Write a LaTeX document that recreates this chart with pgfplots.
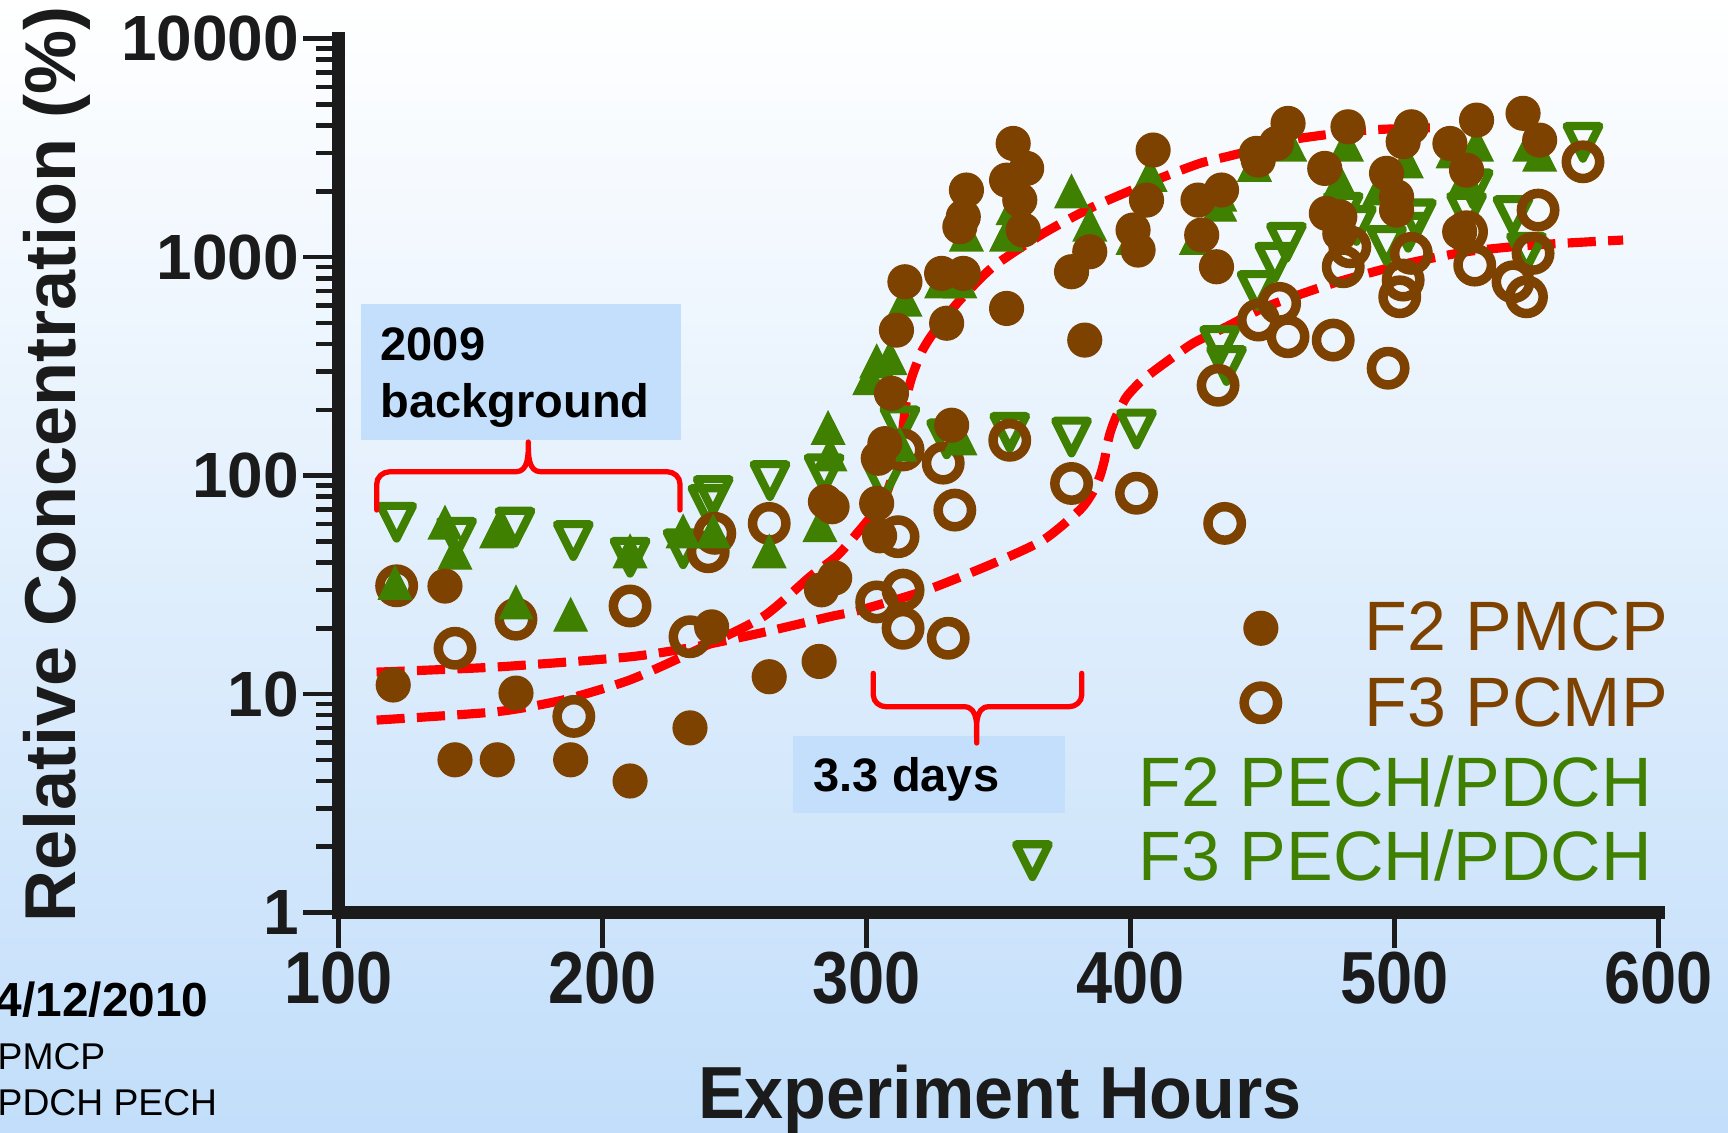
\documentclass[border=0pt]{standalone}
\usepackage{fontspec}
\setmainfont{Liberation Sans}
\newfontfamily\xtickfont[FakeStretch=0.88]{Liberation Sans}
\newfontfamily\xlabfont[FakeStretch=0.95]{Liberation Sans}
\usepackage{pgfplots}
\pgfplotsset{compat=1.18}
\definecolor{brn}{RGB}{126,66,0}
\definecolor{grn}{RGB}{64,128,0}
\definecolor{axisc}{RGB}{27,27,27}
\definecolor{bgbot}{RGB}{194,222,250}
\definecolor{boxc}{RGB}{196,223,251}

\begin{document}
\begin{tikzpicture}
\fill[top color=white, bottom color=bgbot] (0,0) rectangle (172.8mm,113.2mm);

\begin{axis}[
    at={(33.83mm,21.95mm)}, anchor=south west,
    scale only axis, width=132.02mm, height=87.39mm,
    xmin=100, xmax=600, ymin=1, ymax=10000, ymode=log,
    axis x line*=bottom, axis y line*=left,
    axis line style={-, line width=3.8pt, color=axisc, line cap=rect},
    xtick={100,200,300,400,500,600},
    xticklabels={100,200,300,400,500,600},
    ytick={1,10,100,1000,10000},
    yticklabels={1,10,100,1000,10000},
    minor ytick={2,3,4,5,6,7,8,9,20,30,40,50,60,70,80,90,200,300,400,500,600,700,800,900,2000,3000,4000,5000,6000,7000,8000,9000},
    tick align=outside,
    major tick length=10pt, minor tick length=6.3pt,
    major tick style={line width=1.3pt, color=axisc},
    minor tick style={line width=1.3pt, color=axisc},
    y tick label style={font=\bfseries\fontsize{18.2}{18.2}\selectfont, inner sep=1pt, text=axisc},
    x tick label style={font=\xtickfont\bfseries\fontsize{21}{21}\selectfont, inner sep=1pt, text=axisc},
]
% F3 PECH/PDCH
\addplot[only marks, mark=triangle, mark size=5.4pt,
  mark options={rotate=180, yscale=1.15, line width=2.3pt, draw=grn, fill=none, line join=round}] table {
122.1 64.8
144.8 55.3
166.9 61.5
189 53.4
210.5 44.8
230.6 49
242 85.9
240 78
263.5 100.5
284 108
306.4 99
312.7 179
330.4 156
354.3 167
377.7 159
402.3 173
433.8 417
436.4 338
448 745
454.7 1003
459.1 1239
480.6 1700
485.6 1479
497 1197
505.2 1377
508.3 1585
527.3 1700
529.8 2174
544.9 1641
550 1114
571.4 3550
};
% F3 PCMP
\addplot[only marks, mark=o, mark size=4.75pt,
  mark options={line width=2.7pt, draw=brn}] table {
122.1 31.3
144.2 16.2
167.3 22
189.2 7.9
210.5 25.3
233.2 18.3
240.1 44.8
242.6 54.4
263.2 60.4
303.9 26.4
312 52.5
313.9 29.9
313.9 20
313.9 131
329.1 114
331 18
333.5 69.5
354.3 145
377.7 92
402.3 83
433.2 259
435.7 60.4
448.5 515
456.5 614
459.7 432
476.8 417
480.6 903
483.1 1114
497.6 310
502 658
503.3 785
506.4 1040
527.3 1306
530.4 919
544.9 771
550 658
552.5 1040
554.4 1641
571.4 2730
};
% F2 PECH/PDCH
\addplot[only marks, mark=triangle*, mark size=5.4pt,
  mark options={yscale=1.15, draw=grn, fill=grn, line width=0.4pt}] table {
121.5 30.5
140.4 57.5
144.2 41.9
160 52.5
167.3 24.8
188 21.8
210.5 42.5
230.6 52.5
242 52.5
263.2 42.5
282.4 56
285.5 156
286.2 118
301.3 264
303.9 315
308.9 326
312.7 131
314.6 603
328.5 731
335.4 731
335.4 140
337.9 1197
353.1 1197
355.6 1585
377.7 1888
384.6 1330
401 1156
407.4 2250
425 1156
433.8 1641
433.8 1824
447 2500
460.3 3090
479.3 2100
481.8 3090
494.4 1950
504.5 2590
522.2 2877
527 2174
531.1 3090
551.2 3090
555 2780
};
% F2 PMCP
\addplot[only marks, mark=*, mark size=4.8pt,
  mark options={draw=brn, fill=brn, line width=0.4pt}] table {
120.8 11.0
140.4 31.2
144.2 5.0
160.2 5.0
167.3 10.1
188 5.0
210.5 4.0
233.2 7.0
241.4 20.3
263.2 12.0
282.1 14.1
284.5 76
287 72
283 30
288 34
303.9 74.6
305 53
304.5 120
307 140
309.5 238
311.4 463
314.6 771
328.5 842
336.7 842
330.4 498
332.3 170
335.4 1377
336.7 1529
337.9 2027
353.1 2250
355.6 3311
358.1 1824
359.4 1330
360.7 2546
353.1 582
377.7 857
382.7 417
384.6 1058
401 1330
402.9 1077
406.1 1824
408.6 3090
425.6 1824
427 1262
432.6 903
434.5 2027
447.7 2983
448.4 2780
455.3 3311
459.7 4092
473.6 2546
474.2 1585
479.3 1529
479.3 1283
482.4 3948
497 2417
500.8 1888
500.8 1641
503.3 3373
506.4 3948
521 3311
524.7 1306
527.3 2500
531.1 4236
548.7 4550
555 3430
};
% fitted curves
\addplot[red, line width=2.6pt, dash pattern=on 8pt off 3.5pt, smooth, tension=0.4] coordinates {
(114.5,7.6) (160,8.3) (185.2,9.4) (210.4,11.6) (235.7,15.9) (260.9,22.6)
(278.6,34.4) (289,43) (297.5,56.3) (303,68) (307.6,83) (310.5,105)
(312.7,131) (314,170) (314.8,206) (316,250) (317.7,294) (321,370)
(325.3,448) (335.4,635) (348,903) (367,1283) (385.9,1700) (411.1,2290)
(426.3,2685) (436.4,2880) (449,3140) (464.1,3493) (489.4,3811) (513.4,3907)
};
\addplot[red, line width=2.6pt, dash pattern=on 8pt off 3.5pt, smooth, tension=0.4] coordinates {
(114.5,12.6) (160,13.3) (210.4,14.8) (235.7,16.5) (259.7,19) (286.2,22.6)
(297.5,24.2) (322.8,29.9) (348,39.6) (367,50.7) (380.8,69.5) (385.5,83)
(388.4,98.8) (390.2,118) (391,135) (392.4,158) (394.5,185) (398.5,229)
(404,270) (411.1,315) (423.7,403) (436.4,480) (451.5,593) (476.8,759) (502,919)
(527.3,1058) (552.5,1135) (586.6,1197)
};
% legend symbols
\addplot[forget plot, only marks, mark=*, mark size=4.8pt,
  mark options={draw=brn, fill=brn, line width=0.4pt}] coordinates {(449.4,20.0)};
\addplot[forget plot, only marks, mark=o, mark size=4.75pt,
  mark options={line width=2.7pt, draw=brn}] coordinates {(449.4,9.12)};
\addplot[forget plot, only marks, mark=triangle, mark size=5.4pt,
  mark options={rotate=180, yscale=1.15, line width=2.3pt, draw=grn, fill=none, line join=round}] coordinates {(362.9,1.83)};
\end{axis}

\begin{scope}[x=0.1mm, y=0.1mm]
% axis titles
\node[rotate=90, anchor=base, text=axisc, font=\bfseries\fontsize{20.5}{20.5}\selectfont] at (75,667.5) {Relative Concentration (\%)};
\node[anchor=base, text=axisc, font=\xlabfont\bfseries\fontsize{21}{21}\selectfont] at (1000,14) {Experiment Hours};
% annotation boxes
\fill[boxc] (361,692) rectangle (681,828);
\node[anchor=base west, inner sep=0pt, font=\bfseries\fontsize{13.37}{13.37}\selectfont] at (380,772) {2009};
\node[anchor=base west, inner sep=0pt, font=\bfseries\fontsize{13.37}{13.37}\selectfont] at (380,715) {background};
\fill[boxc] (793.3,318.7) rectangle (1065,396);
\node[anchor=base west, inner sep=0pt, font=\bfseries\fontsize{13.37}{13.37}\selectfont] at (813,340.3) {3.3 days};
% brackets
\draw[red, line width=1.5pt, line cap=round, line join=round]
  (376.7,622) -- (376.7,648) to[out=90,in=180] (390,660.3) -- (516,660.3)
  to[out=0,in=-90] (528.3,690) to[out=-90,in=180] (540.6,660.3) -- (667,660.3)
  to[out=0,in=90] (680,648) -- (680,622);
\draw[red, line width=1.5pt, line cap=round, line join=round]
  (873.3,458.7) -- (873.3,437) to[out=-90,in=180] (886,425.3) -- (964,425.3)
  to[out=0,in=90] (976.7,389) to[out=90,in=180] (989,425.3) -- (1069,425.3)
  to[out=0,in=-90] (1081.7,437) -- (1081.7,458.7);
% legend text
\node[anchor=base west, inner sep=0pt, text=brn, font=\fontsize{19.9}{19.9}\selectfont] at (1364,481.3) {F2 PMCP};
\node[anchor=base west, inner sep=0pt, text=brn, font=\fontsize{19.9}{19.9}\selectfont] at (1364,405.3) {F3 PCMP};
\node[anchor=base west, inner sep=0pt, text=grn, font=\fontsize{19.9}{19.9}\selectfont] at (1138,325.3) {F2 PECH/PDCH};
\node[anchor=base west, inner sep=0pt, text=grn, font=\fontsize{19.9}{19.9}\selectfont] at (1138,251.3) {F3 PECH/PDCH};
% notes bottom left
\node[anchor=base west, inner sep=0pt, font=\bfseries\fontsize{13.6}{13.6}\selectfont] at (-5,116) {4/12/2010};
\node[anchor=base west, inner sep=0pt, font=\fontsize{10.6}{10.6}\selectfont] at (-3,63) {PMCP};
\node[anchor=base west, inner sep=0pt, font=\fontsize{10.6}{10.6}\selectfont] at (-3,17) {PDCH PECH};
\pgfresetboundingbox
\path (0,0) rectangle (1728,1132);
\end{scope}
\end{tikzpicture}
\end{document}
